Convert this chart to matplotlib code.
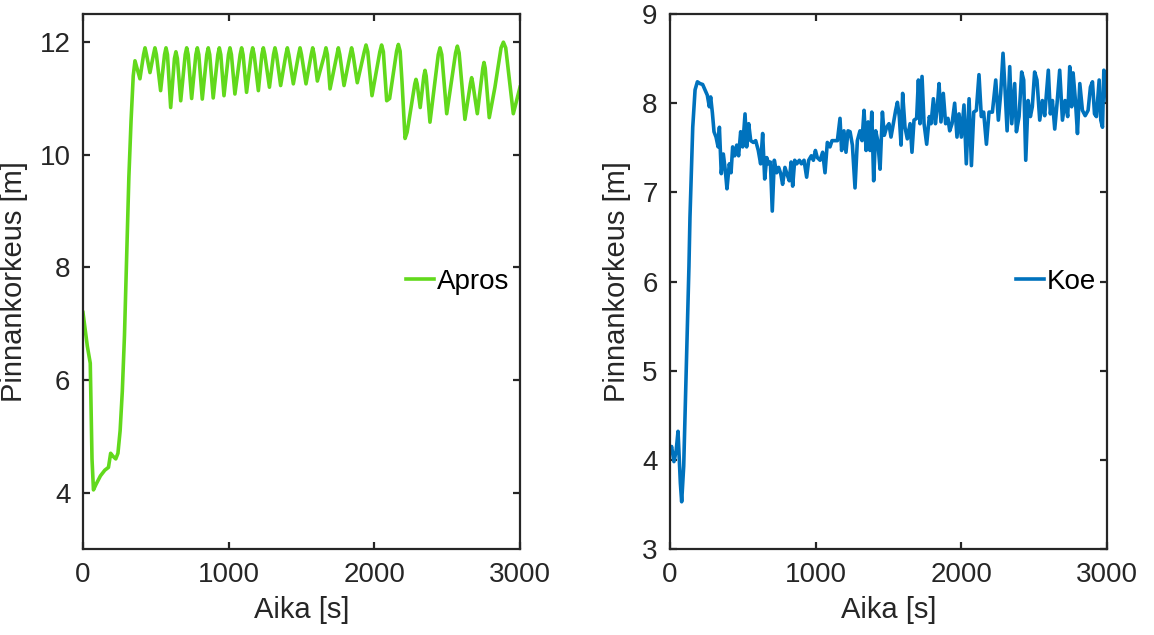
import matplotlib
matplotlib.use("Agg")
import matplotlib.pyplot as plt

plt.rcParams["font.family"] = ["Liberation Sans", "DejaVu Sans"]

# Apros simulation: surface level [m] vs time [s]
apros_t = [0, 30, 50, 62, 72, 90, 120, 150, 175, 190, 205, 225, 240, 255, 270, 285, 300,
           315, 330, 345, 357, 375, 391,
           416, 426, 436, 460, 484, 494, 504, 533, 560, 570, 580, 602, 628, 638, 648, 671,
           702, 712, 722, 746, 775, 785, 795, 819, 850, 860, 870, 894, 926, 936, 946, 968,
           999, 1009, 1019, 1043, 1079, 1089, 1099, 1123, 1155, 1165, 1175, 1204,
           1228, 1238, 1248, 1280, 1308, 1318, 1328, 1357, 1393, 1403, 1413, 1444,
           1480, 1490, 1500, 1531, 1567, 1577, 1587, 1609, 1658, 1668, 1678, 1696,
           1743, 1753, 1763, 1792, 1834, 1844, 1854, 1883, 1931, 1943, 1955, 1984,
           2038, 2050, 2062, 2085, 2105, 2153, 2165, 2177, 2190, 2211, 2225,
           2278, 2286, 2294, 2315, 2340, 2348, 2356, 2382, 2439, 2451, 2463, 2497,
           2558, 2570, 2582, 2622, 2660, 2668, 2676, 2707, 2745, 2753, 2761, 2789,
           2828, 2870, 2886, 2902, 2954, 3000]
apros_y = [7.2, 6.6, 6.3, 4.6, 4.05, 4.15, 4.3, 4.4, 4.45, 4.7, 4.65, 4.6, 4.7, 5.1, 5.8,
           6.8, 8.2, 9.6, 10.6, 11.4, 11.67, 11.5, 11.35,
           11.78, 11.9, 11.78, 11.46, 11.78, 11.9, 11.78, 11.14, 11.78, 11.9, 11.78, 10.84,
           11.71, 11.83, 11.71, 10.96, 11.78, 11.9, 11.78, 11.0, 11.78, 11.9, 11.78, 10.99,
           11.78, 11.9, 11.78, 11.01, 11.78, 11.9, 11.78, 11.05, 11.78, 11.9, 11.78, 11.08,
           11.78, 11.9, 11.78, 11.11, 11.78, 11.9, 11.78, 11.14,
           11.78, 11.9, 11.78, 11.2, 11.78, 11.9, 11.78, 11.23, 11.78, 11.9, 11.78, 11.26,
           11.78, 11.9, 11.78, 11.26, 11.78, 11.9, 11.78, 11.31, 11.78, 11.9, 11.78, 11.17,
           11.78, 11.9, 11.78, 11.23, 11.78, 11.9, 11.78, 11.28, 11.83, 11.95, 11.83, 11.05,
           11.83, 11.95, 11.83, 10.96, 11.0, 11.84, 11.96, 11.84, 11.3, 10.29, 10.4,
           11.26, 11.34, 11.26, 10.84, 11.4, 11.5, 11.4, 10.58, 11.78, 11.9, 11.78, 10.73,
           11.81, 11.93, 11.81, 10.63, 11.27, 11.37, 11.27, 10.73, 11.54, 11.64, 11.54, 10.66,
           11.2, 11.9, 12.0, 11.9, 10.73, 11.2]

# Koe (experiment): surface level [m] vs time [s]
koe_t = [0, 11, 27, 42, 55, 71, 80, 94, 112, 130, 137, 156, 172, 188, 206, 224, 240, 256,
         270, 279, 291, 302, 316, 330, 339, 352, 366, 380, 391, 407, 419, 430, 444, 458,
         471, 485, 499, 515, 526, 540, 554, 572, 588, 606, 622, 636, 650, 664, 677, 689,
         702, 716, 732, 746, 760, 773, 789, 806, 819, 831, 842, 856, 870, 888, 902, 920,
         938, 952, 970, 984, 998, 1011, 1030, 1048, 1064, 1080, 1098, 1112, 1130, 1149,
         1167, 1178, 1194, 1208, 1222, 1236, 1252, 1270, 1286, 1304, 1318, 1332, 1346,
         1360, 1373, 1385, 1398, 1412, 1426, 1442, 1458, 1471, 1487, 1503, 1517, 1533,
         1549, 1561, 1574, 1586, 1597, 1613, 1629, 1648, 1661, 1675, 1693, 1705, 1716,
         1730, 1744, 1762, 1780, 1792, 1808, 1822, 1835, 1847, 1860, 1876, 1892, 1908,
         1920, 1936, 1954, 1970, 1984, 2000, 2018, 2034, 2053, 2069, 2085, 2103, 2121,
         2137, 2153, 2172, 2190, 2213, 2236, 2254, 2270, 2286, 2300, 2314, 2332, 2346,
         2366, 2378, 2396, 2414, 2428, 2442, 2458, 2474, 2487, 2503, 2519, 2538, 2556,
         2572, 2597, 2611, 2625, 2641, 2657, 2675, 2694, 2712, 2730, 2744, 2757, 2767,
         2783, 2797, 2813, 2831, 2850, 2870, 2886, 2900, 2914, 2927, 2946, 2957, 2969,
         2978, 2989, 3000]
koe_y = [4.1, 4.15, 3.98, 4.1, 4.32, 3.74, 3.53, 3.93, 5.05, 6.17, 6.72, 7.73, 8.15, 8.24,
         8.22, 8.21, 8.15, 8.09, 7.96, 8.07, 7.89, 7.68, 7.62, 7.51, 7.73, 7.21, 7.43,
         7.24, 7.04, 7.32, 7.22, 7.51, 7.41, 7.53, 7.41, 7.68, 7.51, 7.88, 7.51, 7.77,
         7.58, 7.56, 7.58, 7.47, 7.32, 7.66, 7.15, 7.39, 7.32, 7.34, 6.79, 7.36, 7.22,
         7.28, 7.21, 7.09, 7.28, 7.19, 7.13, 7.34, 7.07, 7.36, 7.32, 7.36, 7.32, 7.36,
         7.17, 7.36, 7.41, 7.36, 7.47, 7.39, 7.36, 7.45, 7.22, 7.56, 7.51, 7.58, 7.58,
         7.58, 7.83, 7.47, 7.69, 7.45, 7.69, 7.68, 7.53, 7.05, 7.58, 7.69, 7.58, 7.92,
         7.47, 7.79, 7.47, 7.9, 7.13, 7.69, 7.58, 7.26, 7.9, 7.64, 7.73, 7.77, 7.62, 7.77,
         7.92, 8.01, 7.85, 7.53, 8.11, 7.73, 7.6, 7.77, 7.45, 7.81, 7.83, 8.26, 7.77,
         8.3, 7.77, 7.54, 7.85, 7.77, 8.05, 7.77, 7.96, 8.22, 7.79, 8.11, 7.77, 7.83,
         7.69, 7.77, 8.0, 7.62, 7.88, 7.62, 7.98, 7.32, 8.05, 7.3, 7.9, 7.92, 8.32,
         7.85, 7.9, 7.54, 7.9, 7.9, 8.26, 7.81, 8.11, 8.56, 8.15, 7.69, 8.41, 7.77,
         8.22, 7.68, 7.85, 8.35, 8.26, 7.36, 8.03, 7.85, 7.96, 8.35, 8.26, 7.81, 8.03,
         7.86, 8.37, 7.88, 8.03, 7.71, 8.0, 8.37, 7.81, 8.03, 7.85, 8.41, 7.96, 8.34,
         8.03, 7.66, 8.22, 7.92, 7.86, 7.92, 8.18, 8.24, 7.88, 7.85, 8.26, 7.81, 7.73,
         8.37, 8.34, 8.03]

GREEN = "#62D91C"
BLUE = "#0072BD"
AX_COLOR = "#262626"


def style_axes(ax):
    for sp in ax.spines.values():
        sp.set_color(AX_COLOR)
        sp.set_linewidth(1.6)
    ax.tick_params(direction="in", top=True, right=True, length=5, width=1.6,
                   colors=AX_COLOR, labelcolor=AX_COLOR, labelsize=20, pad=9)
    ax.set_xlim(0, 3000)
    ax.set_xticks([0, 1000, 2000, 3000])
    ax.set_xlabel("Aika [s]", fontsize=21, color=AX_COLOR, labelpad=6)
    ax.set_ylabel("Pinnankorkeus [m]", fontsize=21, color=AX_COLOR, labelpad=8)


fig = plt.figure(figsize=(11.54, 6.35), dpi=100)
ax1 = fig.add_axes([0.0719, 0.1354, 0.3787, 0.8425])
ax2 = fig.add_axes([0.5806, 0.1354, 0.3787, 0.8425])

ax1.plot(apros_t, apros_y, color=GREEN, linewidth=2.6, label="Apros")
ax1.set_ylim(3, 12.5)
ax1.set_yticks([4, 6, 8, 10, 12])
style_axes(ax1)

ax2.plot(koe_t, koe_y, color=BLUE, linewidth=2.6, label="Koe")
ax2.set_ylim(3, 9)
ax2.set_yticks([3, 4, 5, 6, 7, 8, 9])
style_axes(ax2)

for ax in (ax1, ax2):
    ax.legend(loc="center right", frameon=False, fontsize=20, handlelength=1.0,
              handletextpad=0.1, borderaxespad=0.2, borderpad=0.2)

fig.savefig("out.png", dpi=100)
plt.close(fig)
